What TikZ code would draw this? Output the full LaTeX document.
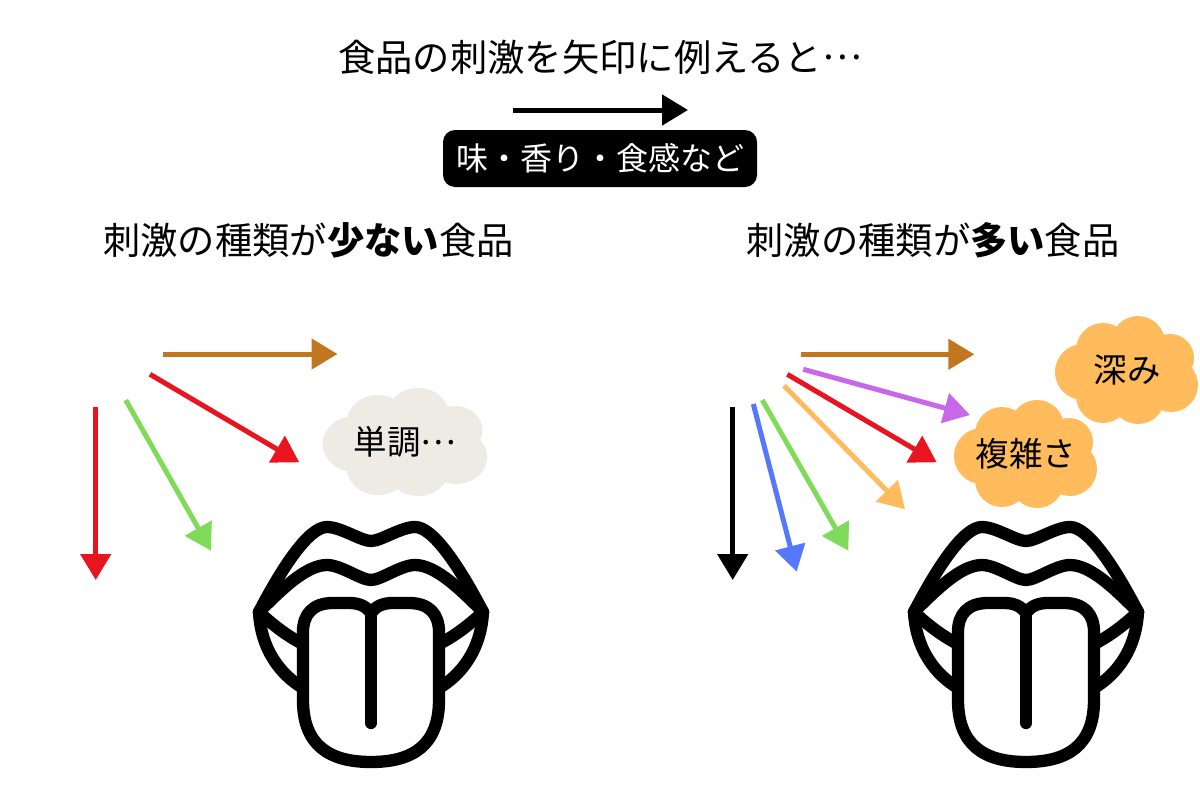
\documentclass[tikz,border=0pt]{standalone}
\usepackage{fontspec}
\setmainfont{Noto Sans CJK JP}[RawFeature=+fwid]
\usetikzlibrary{arrows.meta}
\newcommand{\midell}{\raisebox{0.3em}{…}}
\definecolor{cbrown}{HTML}{C17720}
\definecolor{cpurple}{HTML}{C868E8}
\definecolor{cred}{HTML}{E8141F}
\definecolor{corange}{HTML}{FFBB5C}
\definecolor{cgreen}{HTML}{80DB5A}
\definecolor{cblue}{HTML}{5578FF}
\definecolor{cgrey}{HTML}{EEEBE4}
\tikzset{
  stim/.style={line width=5pt,-{Triangle[length=26pt,width=30pt]}},
  bigtext/.style={inner sep=0pt,font=\fontsize{37.3}{40}\selectfont},
  cloudtext/.style={inner sep=0pt,font=\fontsize{33.5}{36}\selectfont},
  tag/.style={fill=black,rounded corners=12pt,text=white,minimum width=314pt,minimum height=57pt,inner sep=0pt,font=\fontsize{32}{36}\selectfont},
  mouthline/.style={draw=black,line width=12.3pt,line join=round,line cap=round},
  mouth/.pic={
    \draw[mouthline] (-112,612) .. controls (-88,566) and (-62,527) .. (-44,527)
      .. controls (-30,527) and (-10,541) .. (0,541)
      .. controls (10,541) and (30,527) .. (44,527)
      .. controls (62,527) and (88,566) .. (112,612);
    \draw[mouthline] (-112,612) .. controls (-90,590) and (-65,565) .. (-44,565)
      .. controls (-30,565) and (-10,580) .. (0,580)
      .. controls (10,580) and (30,565) .. (44,565)
      .. controls (65,565) and (90,590) .. (112,612);
    \draw[mouthline] (-112,612) .. controls (-95,628) and (-80,638) .. (-68,644);
    \draw[mouthline] (112,612) .. controls (95,628) and (80,638) .. (68,644);
    \draw[mouthline] (-112,612) .. controls (-110,650) and (-90,675) .. (-68,688);
    \draw[mouthline] (112,612) .. controls (110,650) and (90,675) .. (68,688);
    \draw[mouthline,fill=white] (0,613) .. controls (-5,606) and (-12,603) .. (-22,603) -- (-38,603)
      .. controls (-58,603) and (-68,614) .. (-68,632) -- (-68,700)
      .. controls (-68,745) and (-42,762) .. (0,762)
      .. controls (42,762) and (68,745) .. (68,700) -- (68,632)
      .. controls (68,614) and (58,603) .. (38,603) -- (22,603)
      .. controls (12,603) and (5,606) .. (0,613) -- cycle;
    \draw[mouthline] (0,613) -- (0,723);
  },
  cloudshape/.pic={
    \fill (-44,2) circle (28) (-24,-20) circle (27) (11,-27) circle (27) (43,-12) circle (24)
      (44,15) circle (27) (11,27) circle (27) (-24,26) circle (27) (0,0) circle (35);
  }
}
\begin{document}
\begin{tikzpicture}[x=1pt,y=-1pt]
\useasboundingbox (0,0) rectangle (1200,800);

% heading
\node[bigtext] (title) at (600,57) {食品の刺激を矢印に例えると\midell};
\coordinate (keyS) at (513,110);
\coordinate (keyE) at (688,110);
\draw[stim,black] (keyS) -- (keyE);
\node[tag] (key) at (600,158.5) {味・香り・食感など};
\node[bigtext] (headL) at (308.5,240) {刺激の種類が\textbf{少ない}食品};
\node[bigtext] (headR) at (933,240) {刺激の種類が\textbf{多い}食品};

% left group
\coordinate (a1s) at (163,354);   \coordinate (a1e) at (337.5,354);
\coordinate (a2s) at (150,374.3); \coordinate (a2e) at (299.3,462.3);
\coordinate (a3s) at (125.7,400); \coordinate (a3e) at (211,550.7);
\coordinate (a4s) at (95.7,406.7);\coordinate (a4e) at (95.7,580);
\draw[stim,cbrown] (a1s) -- (a1e);
\draw[stim,cred] (a2s) -- (a2e);
\draw[stim,cgreen] (a3s) -- (a3e);
\draw[stim,cred] (a4s) -- (a4e);

% right group
\coordinate (b1s) at (801,354.3);   \coordinate (b1e) at (974.3,354.3);
\coordinate (b2s) at (803.3,369.3); \coordinate (b2e) at (970,415);
\coordinate (b3s) at (787.3,374.3); \coordinate (b3e) at (936.7,462.3);
\coordinate (b4s) at (784,385.7);   \coordinate (b4e) at (905,509.3);
\coordinate (b5s) at (762.3,400);   \coordinate (b5e) at (848.3,550.7);
\coordinate (b6s) at (753.3,404);   \coordinate (b6e) at (796.7,571.7);
\coordinate (b7s) at (732.7,406.7); \coordinate (b7e) at (732.7,580);
\draw[stim,cbrown] (b1s) -- (b1e);
\draw[stim,cpurple] (b2s) -- (b2e);
\draw[stim,cred] (b3s) -- (b3e);
\draw[stim,corange] (b4s) -- (b4e);
\draw[stim,cgreen] (b5s) -- (b5e);
\draw[stim,cblue] (b6s) -- (b6e);
\draw[stim,black] (b7s) -- (b7e);

% clouds
\pic[cgrey,xscale=1.15] at (405.5,442) {cloudshape};
\pic[corange] at (1127,370) {cloudshape};
\pic[corange] at (1026,454) {cloudshape};
\node[cloudtext] (c1) at (405,442) {単調\midell};
\node[cloudtext] (c2) at (1127,370) {深み};
\node[cloudtext] (c3) at (1026,454) {複雑さ};

% mouths
\pic at (371,0) {mouth};
\pic at (1026,0) {mouth};
\end{tikzpicture}
\end{document}
